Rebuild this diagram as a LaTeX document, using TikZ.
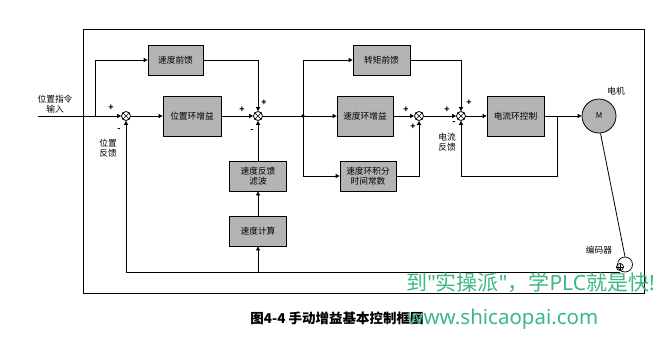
\documentclass[tikz,border=0pt]{standalone}
\usepackage{fontspec}
\setmainfont{Noto Sans CJK SC}
\newfontfamily\cjk{Noto Sans CJK SC}
\newfontfamily\latn{Noto Sans}
\usetikzlibrary{arrows.meta}
\definecolor{boxgray}{RGB}{180,180,180}
\definecolor{wmgreen}{RGB}{60,185,130}
\begin{document}
\begin{tikzpicture}[x=1pt,y=-1pt,
  line width=0.8pt,
  blk/.style={draw, fill=boxgray, minimum width=57pt, minimum height=30pt, inner sep=1pt, font=\fontsize{8.7}{10.5}\selectfont, align=center},
  blkt/.style={blk, minimum height=40pt},
  sumnode/.style={draw, circle, minimum size=9pt, inner sep=0pt},
  arr/.style={-{Triangle[length=4pt,width=4pt]}},
  sgn/.style={font=\fontsize{8.5}{9}\selectfont\bfseries, inner sep=0pt},
  lbl/.style={font=\fontsize{8.7}{10.5}\selectfont, align=center, inner sep=0pt}
]
\useasboundingbox (0,0) rectangle (661,337);
\fill[white] (0,0) rectangle (661,337);
% outer frame
\draw (83,29) rectangle (644,293);

% blocks
\node[blk, minimum width=55pt] (ff1) at (175.5,60) {速度前馈};
\node[blkt, minimum width=58pt] (pg) at (192,116) {位置环增益};
\node[blk] (svf) at (258,176) {速度反馈\\滤波};
\node[blk] (sc) at (258,231) {速度计算};
\node[blk] (tf) at (381.5,60) {转矩前馈};
\node[blkt, minimum width=56pt] (vg) at (365,116) {速度环增益};
\node[blk, minimum width=56pt] (vi) at (368,176) {速度环积分\\时间常数};
\node[blkt] (cc) at (515.5,116) {电流环控制};
\node[draw, circle, fill=boxgray, minimum size=34pt, inner sep=0pt, font=\fontsize{8}{9}\selectfont] (M) at (599,116) {M};

% summing junctions
\foreach \n/\x in {s1/126, s2/258, s3/419, s4/461}{
  \node[sumnode] (\n) at (\x,116) {};
  \draw[line width=0.6pt] (\n.north east) -- (\n.south west) (\n.north west) -- (\n.south east);
}

% encoder
\node[draw, circle, minimum size=15pt, inner sep=0pt, line width=0.7pt] (enc) at (625,264.5) {};
\node[draw, circle, minimum size=7pt, inner sep=0pt, line width=0.7pt] (encg) at (620,267) {};
\draw[line width=0.5pt] (encg.north) -- (encg.south) (encg.west) -- (encg.east);

% coordinates
\coordinate (in) at (38,116);
\coordinate (b1) at (95,116);
\coordinate (j1) at (303,116);
\coordinate (j2) at (557,116);
\coordinate (cf) at (557,176);
\coordinate (fbR) at (620,272);
\coordinate (fbL) at (126,272);
\coordinate (fb2) at (258,272);

% forward path
\draw[arr] (in) -- (s1.west);
\draw[arr] (b1) |- (ff1.west);
\draw[arr] (s1.east) -- (pg.west);
\draw[arr] (pg.east) -- (s2.west);
\draw[arr] (ff1.east) -| (s2.north);
\draw[arr] (s2.east) -- (vg.west);
\draw[arr] (j1) |- (tf.west);
\draw[arr] (j1) |- (vi.west);
\fill (j1) circle (1.8pt);
\draw[arr] (vg.east) -- (s3.west);
\draw[arr] (vi.east) -| (s3.south);
\draw[arr] (s3.east) -- (s4.west);
\draw[arr] (tf.east) -| (s4.north);
\draw[arr] (s4.east) -- (cc.west);
\draw[arr] (cc.east) -- (M.west);
\draw[arr] (j2) -- (cf) -| (s4.south);

% feedback
\draw (M.-85) -- (enc.north);
\draw[arr] (fbR) -- (fbL) -- (s1.south);
\draw[arr] (fb2) -- (sc.south);
\draw[arr] (sc.north) -- (svf.south);
\draw[arr] (svf.north) -- (s2.south);

% signs
\node[sgn] (p1) at (111,108) {+};
\node[sgn] (m1) at (119,130) {-};
\node[sgn] (p2a) at (242,110) {+};
\node[sgn] (p2b) at (264,103) {+};
\node[sgn] (m2) at (252,131) {-};
\node[sgn] (p3a) at (406,110) {+};
\node[sgn] (p3b) at (413,127) {+};
\node[sgn] (p4a) at (447,110) {+};
\node[sgn] (p4b) at (469,103) {+};
\node[sgn] (m4) at (454,123) {-};

% labels
\node[lbl] (lin) at (55,104) {位置指令\\输入};
\node[lbl] (lpf) at (108,148) {位置\\反馈};
\node[lbl] (lcf) at (447,142) {电流\\反馈};
\node[lbl] (lm) at (616,91) {电机};
\node[lbl] (lenc) at (599,250) {编码器};

% caption
\node[font=\fontsize{13.5}{15}\selectfont\bfseries, anchor=west, inner sep=0pt] (cap) at (250,318) {图4-4 手动增益基本控制框图};

% watermark
\node[font=\fontsize{21}{23}\selectfont, text=wmgreen, anchor=west, inner sep=0pt] (wm1) at (406,283) {到{\latn"}实操派{\latn"}，学{\latn PLC}就是快{\latn !}};
\node[font=\latn\fontsize{20.5}{22}\selectfont, text=wmgreen, anchor=west, inner sep=0pt] (wm2) at (407,319) {www.shicaopai.com};
\end{tikzpicture}
\end{document}
